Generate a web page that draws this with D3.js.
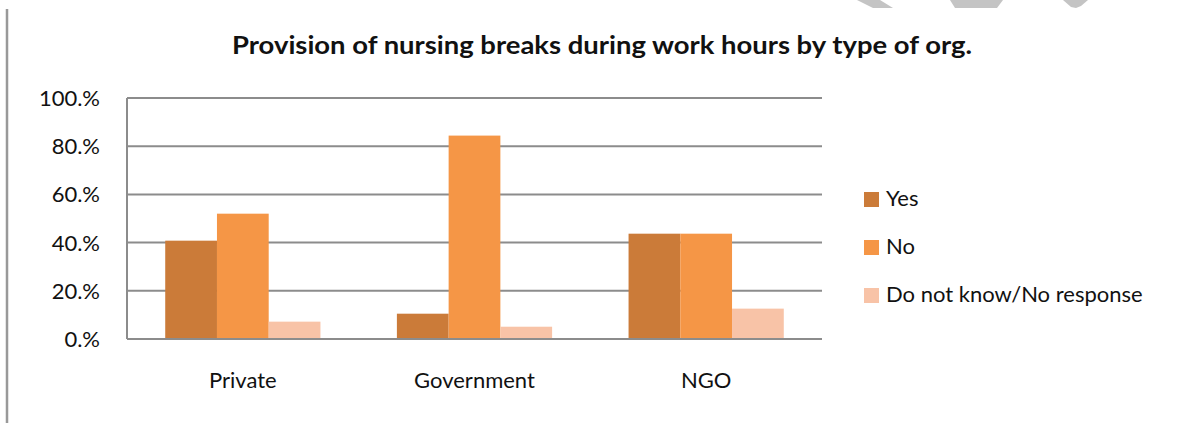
<!DOCTYPE html>
<html>
<head>
<meta charset="utf-8">
<script src="https://cdn.jsdelivr.net/npm/d3@7"></script>
<style>
  body { margin: 0; background: #fff; }
  svg { display: block; font-family: Lato, "Open Sans", sans-serif; }
</style>
</head>
<body>
<div id="chart"></div>
<script>
// data
var categories = ["Private", "Government", "NGO"];
var seriesNames = ["Yes", "No", "Do not know/No response"];
var yesValues = [40.8, 10.5, 43.7];
var noValues = [52.0, 84.4, 43.7];
var dkValues = [7.2, 5.1, 12.6];
var yTicks = [0, 20, 40, 60, 80, 100];
var titleText = "Provision of nursing breaks during work hours by type of org.";

var colors = ["#cb7b39", "#f59646", "#f8c3a7"];

var width = 1192, height = 423;
var margin = {left: 127, right: 370, top: 98, bottom: 84};

var svg = d3.select("#chart").append("svg")
    .attr("width", width)
    .attr("height", height);

// page edge line on the left
svg.append("line")
    .attr("x1", 7).attr("x2", 7)
    .attr("y1", 9).attr("y2", height)
    .attr("stroke", "#999").attr("stroke-width", 2.5);

// faint watermark pieces cut off at top
var marks = [
  [[857, 0], [880, 0], [893, 8], [873, 8]],
  [[950, 0], [1003, 0], [997, 8], [955, 8]],
  [[1063, 0], [1088, 0], [1081, 6], [1076, 8], [1071, 7]]
];
svg.selectAll(".wm").data(marks).enter().append("polygon")
    .attr("class", "wm")
    .attr("points", function(d){ return d.map(function(p){ return p.join(","); }).join(" "); })
    .attr("fill", "#c4c4c4");

// title
svg.append("text")
    .attr("x", 602).attr("y", 54)
    .attr("text-anchor", "middle")
    .attr("font-weight", "bold")
    .attr("font-size", 24)
    .attr("fill", "#111")
    .attr("textLength", 740)
    .attr("lengthAdjust", "spacingAndGlyphs")
    .text(titleText);

var x0 = d3.scaleBand()
    .domain(categories)
    .range([margin.left, width - margin.right])
    .paddingInner(0.33)
    .paddingOuter(0.165);

var x1 = d3.scaleBand()
    .domain(seriesNames)
    .range([0, x0.bandwidth()]);

var y = d3.scaleLinear()
    .domain([0, 100])
    .range([height - margin.bottom, margin.top]);

// gridlines
svg.append("g")
    .selectAll("line").data(yTicks).enter().append("line")
    .attr("x1", margin.left).attr("x2", width - margin.right)
    .attr("y1", function(d){ return y(d); })
    .attr("y2", function(d){ return y(d); })
    .attr("stroke", "#8c8c8c").attr("stroke-width", 2);

// y axis line
svg.append("line")
    .attr("x1", margin.left).attr("x2", margin.left)
    .attr("y1", y(100)).attr("y2", y(0))
    .attr("stroke", "#8c8c8c").attr("stroke-width", 2);

// y tick labels
svg.append("g")
    .selectAll("text").data(yTicks).enter().append("text")
    .attr("x", 100)
    .attr("y", function(d){ return y(d); })
    .attr("dy", "0.36em")
    .attr("text-anchor", "end")
    .attr("font-size", 22)
    .attr("fill", "#111")
    .text(function(d){ return d + ".%"; });

// bars
var rows = categories.map(function(c, i){
  return {cat: c, vals: [yesValues[i], noValues[i], dkValues[i]]};
});

var groups = svg.selectAll(".grp").data(rows).enter().append("g")
    .attr("class", "grp")
    .attr("transform", function(d){ return "translate(" + x0(d.cat) + ",0)"; });

groups.selectAll("rect")
    .data(function(d){ return d.vals.map(function(v, j){ return {name: seriesNames[j], v: v, j: j}; }); })
    .enter().append("rect")
    .attr("x", function(d){ return x1(d.name); })
    .attr("width", x1.bandwidth())
    .attr("y", function(d){ return y(d.v); })
    .attr("height", function(d){ return y(0) - y(d.v); })
    .attr("fill", function(d){ return colors[d.j]; });

// redraw baseline on top of bars
svg.append("line")
    .attr("x1", margin.left).attr("x2", width - margin.right)
    .attr("y1", y(0)).attr("y2", y(0))
    .attr("stroke", "#8c8c8c").attr("stroke-width", 2);

// category labels
svg.append("g")
    .selectAll("text").data(categories).enter().append("text")
    .attr("x", function(d){ return x0(d) + x0.bandwidth() / 2; })
    .attr("y", 388)
    .attr("text-anchor", "middle")
    .attr("font-size", 22)
    .attr("fill", "#111")
    .text(function(d){ return d; });

// legend
var legend = svg.append("g").selectAll("g").data(seriesNames).enter().append("g")
    .attr("transform", function(d, i){ return "translate(864," + (198 + i * 48) + ")"; });

legend.append("rect")
    .attr("x", 0).attr("y", -6)
    .attr("width", 15).attr("height", 15)
    .attr("fill", function(d, i){ return colors[i]; });

legend.append("text")
    .attr("x", 22).attr("y", 0)
    .attr("dy", "0.36em")
    .attr("font-size", 22)
    .attr("fill", "#111")
    .text(function(d){ return d; });
</script>
</body>
</html>
